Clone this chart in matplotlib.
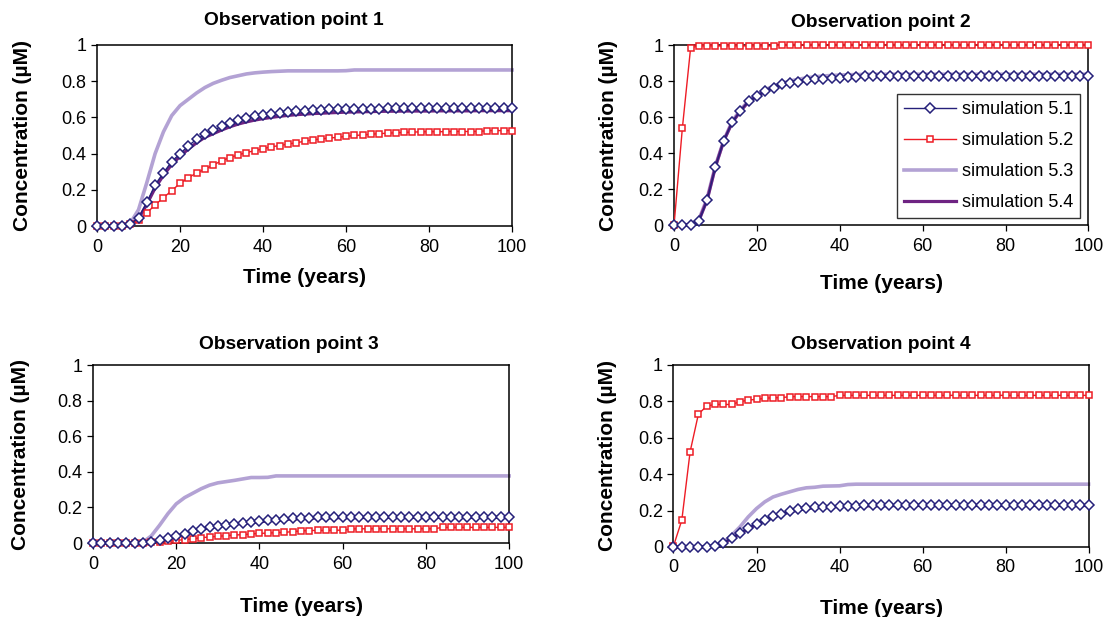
import matplotlib
matplotlib.use("Agg")
import matplotlib.pyplot as plt
from matplotlib.ticker import FuncFormatter
import numpy as np

plt.rcParams['font.family'] = ['Liberation Sans', 'DejaVu Sans']

# time axis, one value every 2 years
years = np.arange(0, 101, 2)

# ---------- observation point 1 ----------
p1_s51 = [0, 0, 0, 0, 0.01, 0.045, 0.13, 0.227, 0.294, 0.356,
          0.40, 0.442, 0.48, 0.506, 0.528, 0.55, 0.568, 0.585, 0.598, 0.607,
          0.614, 0.62, 0.625, 0.63, 0.634, 0.638, 0.641, 0.643, 0.645, 0.646,
          0.647, 0.648, 0.648, 0.649, 0.649, 0.65, 0.651, 0.652, 0.652, 0.652,
          0.652, 0.652, 0.653, 0.653, 0.653, 0.653, 0.653, 0.653, 0.653, 0.653,
          0.653]
p1_s52 = [0, 0, 0, 0, 0.01, 0.032, 0.073, 0.116, 0.157, 0.195,
          0.236, 0.266, 0.294, 0.313, 0.337, 0.36, 0.378, 0.393, 0.406, 0.416,
          0.427, 0.438, 0.444, 0.453, 0.46, 0.468, 0.476, 0.481, 0.486, 0.49,
          0.495, 0.5, 0.503, 0.507, 0.51, 0.513, 0.515, 0.517, 0.519, 0.52,
          0.521, 0.521, 0.521, 0.522, 0.522, 0.522, 0.522, 0.527, 0.527, 0.527,
          0.527]
p1_s53 = [0, 0, 0, 0, 0.015, 0.09, 0.24, 0.40, 0.52, 0.61,
          0.665, 0.70, 0.735, 0.765, 0.788, 0.805, 0.82, 0.83, 0.84, 0.846,
          0.85, 0.853, 0.855, 0.857, 0.857, 0.857, 0.857, 0.857, 0.857, 0.857,
          0.858, 0.862, 0.862, 0.862, 0.862, 0.862, 0.862, 0.862, 0.862, 0.862,
          0.862, 0.862, 0.862, 0.862, 0.862, 0.862, 0.862, 0.862, 0.862, 0.862,
          0.862]
p1_s54 = [0, 0, 0, 0, 0.005, 0.04, 0.12, 0.21, 0.28, 0.34,
          0.385, 0.425, 0.46, 0.49, 0.51, 0.53, 0.548, 0.563, 0.575, 0.585,
          0.593, 0.6, 0.606, 0.611, 0.615, 0.618, 0.621, 0.623, 0.625, 0.627,
          0.629, 0.63, 0.631, 0.632, 0.633, 0.634, 0.634, 0.635, 0.635, 0.635,
          0.635, 0.636, 0.636, 0.636, 0.636, 0.636, 0.637, 0.637, 0.637, 0.637,
          0.637]

# ---------- observation point 2 ----------
p2_s51 = [0, 0, 0, 0.022, 0.139, 0.324, 0.469, 0.57, 0.633, 0.689,
          0.715, 0.746, 0.763, 0.781, 0.791, 0.797, 0.804, 0.81, 0.812, 0.816,
          0.818, 0.82, 0.822, 0.826, 0.828, 0.83, 0.83, 0.83, 0.83, 0.83,
          0.83, 0.83, 0.83, 0.83, 0.83, 0.83, 0.83, 0.83, 0.83, 0.83,
          0.83, 0.83, 0.83, 0.83, 0.83, 0.83, 0.83, 0.83, 0.83, 0.83,
          0.83]
p2_s52 = [0, 0.537, 0.985, 0.995, 0.995, 0.995, 0.995, 0.995, 0.995, 0.995,
          0.995, 0.995, 0.995, 1.0, 1.0, 1.0, 1.0, 1.0, 1.0, 1.0,
          1.0, 1.0, 1.0, 1.0, 1.0, 1.0, 1.0, 1.0, 1.0, 1.0,
          1.0, 1.0, 1.0, 1.0, 1.0, 1.0, 1.0, 1.0, 1.0, 1.0,
          1.0, 1.0, 1.0, 1.0, 1.0, 1.0, 1.0, 1.0, 1.0, 1.0,
          1.0]
p2_s53 = [0, 0, 0.003, 0.03, 0.15, 0.33, 0.47, 0.575, 0.64, 0.69,
          0.725, 0.752, 0.772, 0.788, 0.80, 0.81, 0.818, 0.824, 0.828, 0.831,
          0.833, 0.835, 0.836, 0.837, 0.838, 0.838, 0.838, 0.838, 0.838, 0.838,
          0.838, 0.838, 0.838, 0.838, 0.838, 0.838, 0.838, 0.838, 0.838, 0.838,
          0.838, 0.838, 0.838, 0.838, 0.838, 0.838, 0.838, 0.838, 0.838, 0.838,
          0.838]
p2_s54 = [0, 0, 0.002, 0.025, 0.14, 0.325, 0.468, 0.568, 0.632, 0.686,
          0.715, 0.745, 0.764, 0.78, 0.79, 0.798, 0.805, 0.81, 0.814, 0.817,
          0.82, 0.822, 0.824, 0.826, 0.827, 0.828, 0.829, 0.829, 0.83, 0.83,
          0.83, 0.83, 0.83, 0.83, 0.83, 0.83, 0.83, 0.83, 0.83, 0.83,
          0.83, 0.83, 0.83, 0.83, 0.83, 0.83, 0.83, 0.83, 0.83, 0.83,
          0.83]

# ---------- observation point 3 ----------
p3_s51 = [0, 0, 0, 0, 0, 0, 0, 0.006, 0.015, 0.028,
          0.04, 0.053, 0.066, 0.079, 0.09, 0.096, 0.103, 0.109, 0.114, 0.118,
          0.122, 0.128, 0.131, 0.135, 0.139, 0.142, 0.143, 0.144, 0.145, 0.145,
          0.146, 0.146, 0.147, 0.147, 0.147, 0.147, 0.147, 0.147, 0.147, 0.147,
          0.147, 0.147, 0.147, 0.148, 0.148, 0.148, 0.148, 0.148, 0.148, 0.148,
          0.148]
p3_s52 = [0, 0, 0, 0, 0, 0, 0.002, 0.004, 0.006, 0.009,
          0.015, 0.019, 0.024, 0.03, 0.034, 0.038, 0.041, 0.045, 0.047, 0.051,
          0.054, 0.056, 0.058, 0.06, 0.064, 0.068, 0.07, 0.071, 0.071, 0.072,
          0.072, 0.079, 0.08, 0.08, 0.08, 0.08, 0.08, 0.08, 0.08, 0.08,
          0.08, 0.08, 0.088, 0.088, 0.088, 0.088, 0.088, 0.088, 0.088, 0.088,
          0.088]
p3_s53 = [0, 0, 0, 0, 0, 0, 0.005, 0.04, 0.10, 0.165,
          0.22, 0.255, 0.28, 0.305, 0.325, 0.338, 0.345, 0.352, 0.36, 0.368,
          0.368, 0.369, 0.377, 0.377, 0.377, 0.377, 0.377, 0.377, 0.377, 0.377,
          0.377, 0.377, 0.377, 0.377, 0.377, 0.377, 0.377, 0.377, 0.377, 0.377,
          0.377, 0.377, 0.377, 0.377, 0.377, 0.377, 0.377, 0.377, 0.377, 0.377,
          0.377]
p3_s54 = [0, 0, 0, 0, 0, 0, 0.001, 0.005, 0.013, 0.025,
          0.037, 0.05, 0.063, 0.075, 0.086, 0.093, 0.1, 0.106, 0.111, 0.115,
          0.119, 0.124, 0.128, 0.132, 0.135, 0.138, 0.14, 0.141, 0.142, 0.142,
          0.143, 0.143, 0.143, 0.144, 0.144, 0.144, 0.144, 0.144, 0.144, 0.144,
          0.144, 0.144, 0.144, 0.144, 0.144, 0.144, 0.144, 0.144, 0.144, 0.144,
          0.144]

# ---------- observation point 4 ----------
p4_s51 = [0, 0, 0, 0, 0.002, 0.005, 0.022, 0.05, 0.077, 0.105,
          0.128, 0.15, 0.169, 0.183, 0.198, 0.207, 0.215, 0.22, 0.221, 0.222,
          0.225, 0.226, 0.227, 0.228, 0.228, 0.229, 0.23, 0.23, 0.23, 0.23,
          0.23, 0.23, 0.23, 0.23, 0.23, 0.23, 0.23, 0.23, 0.23, 0.23,
          0.23, 0.23, 0.23, 0.23, 0.23, 0.23, 0.23, 0.23, 0.23, 0.23,
          0.23]
p4_s52 = [0.005, 0.147, 0.523, 0.73, 0.774, 0.783, 0.783, 0.783, 0.798, 0.807,
          0.811, 0.817, 0.82, 0.82, 0.826, 0.826, 0.826, 0.826, 0.826, 0.826,
          0.833, 0.833, 0.833, 0.833, 0.833, 0.833, 0.833, 0.833, 0.833, 0.833,
          0.833, 0.833, 0.833, 0.833, 0.833, 0.833, 0.833, 0.833, 0.833, 0.833,
          0.833, 0.833, 0.833, 0.833, 0.833, 0.833, 0.833, 0.833, 0.833, 0.833,
          0.833]
p4_s53 = [0, 0, 0, 0, 0.002, 0.005, 0.025, 0.064, 0.11, 0.165,
          0.211, 0.248, 0.275, 0.29, 0.303, 0.316, 0.325, 0.328, 0.334, 0.335,
          0.336, 0.343, 0.345, 0.345, 0.345, 0.345, 0.345, 0.345, 0.345, 0.345,
          0.345, 0.345, 0.345, 0.345, 0.345, 0.345, 0.345, 0.345, 0.345, 0.345,
          0.345, 0.345, 0.345, 0.345, 0.345, 0.345, 0.345, 0.345, 0.345, 0.345,
          0.345]
p4_s54 = [0, 0, 0, 0, 0.001, 0.004, 0.02, 0.047, 0.074, 0.1,
          0.124, 0.146, 0.164, 0.179, 0.193, 0.203, 0.211, 0.216, 0.219, 0.221,
          0.223, 0.224, 0.225, 0.226, 0.226, 0.227, 0.227, 0.228, 0.228, 0.228,
          0.228, 0.228, 0.228, 0.228, 0.228, 0.228, 0.228, 0.228, 0.228, 0.228,
          0.228, 0.228, 0.228, 0.228, 0.228, 0.228, 0.228, 0.228, 0.228, 0.228,
          0.228]

titles = ["Observation point 1", "Observation point 2",
          "Observation point 3", "Observation point 4"]
labels = ["simulation 5.1", "simulation 5.2", "simulation 5.3", "simulation 5.4"]
panels = [(p1_s51, p1_s52, p1_s53, p1_s54),
          (p2_s51, p2_s52, p2_s53, p2_s54),
          (p3_s51, p3_s52, p3_s53, p3_s54),
          (p4_s51, p4_s52, p4_s53, p4_s54)]

# axes boxes in figure fraction (left, bottom, width, height)
boxes = [[0.0878, 0.6337, 0.3756, 0.2934],
         [0.6100, 0.6353, 0.3750, 0.2917],
         [0.0842, 0.1199, 0.3765, 0.2885],
         [0.6095, 0.1135, 0.3756, 0.2950]]
# per panel tweaks: title x, title pad, xlabel pad, ylabel pad
title_x = [0.475, 0.5, 0.471, 0.5]
title_pad = [14.5, 13, 11.5, 11.5]
xlab_pad = [9, 14, 17.5, 16.5]
ylab_pad = [21, 15, 20, 15]

col51 = '#25207a'
col52 = '#ee1c25'
col53 = '#b3a2d4'
col54 = '#6e2382'


def draw_panel(ax, data, k):
    s51, s52, s53, s54 = data
    # thick lines go below the marker series
    l53, = ax.plot(years, s53, color=col53, lw=2.6, zorder=2, clip_on=False)
    l54, = ax.plot(years, s54, color=col54, lw=2.3, zorder=3, clip_on=False)
    l52, = ax.plot(years, s52, color=col52, lw=1.0, marker='s', ms=4.4,
                   mfc='white', mec=col52, mew=1.1, zorder=4, clip_on=False)
    l51, = ax.plot(years, s51, color=col51, lw=1.0, marker='D', ms=5.4,
                   mfc='white', mec=col51, mew=1.1, zorder=5, clip_on=False)

    ax.set_xlim(0, 100)
    ax.set_ylim(0, 1)
    ax.set_xticks([0, 20, 40, 60, 80, 100])
    ax.set_yticks([0, 0.2, 0.4, 0.6, 0.8, 1.0])
    ax.yaxis.set_major_formatter(FuncFormatter(lambda v, p: '%g' % v))
    ax.tick_params(direction='out', length=4.5, width=0.9, labelsize=13,
                   colors='black', pad=3)
    ax.tick_params(axis='x', pad=4.5)
    for sp in ax.spines.values():
        sp.set_linewidth(1.1)
        sp.set_color('black')

    ax.set_title(titles[k], fontsize=13.8, fontweight='bold', x=title_x[k],
                 pad=title_pad[k])
    ax.set_xlabel("Time (years)", fontsize=15, fontweight='bold',
                  labelpad=xlab_pad[k])
    ax.set_ylabel("Concentration (\u00b5M)", fontsize=15, fontweight='bold',
                  labelpad=ylab_pad[k])
    return [l51, l52, l53, l54]


fig = plt.figure(figsize=(11.05, 6.17), dpi=100)

for k in range(4):
    ax = fig.add_axes(boxes[k])
    handles = draw_panel(ax, panels[k], k)
    if k == 1:
        leg = ax.legend(handles, labels, loc='lower right',
                        bbox_to_anchor=(0.98, 0.037), borderaxespad=0,
                        fontsize=13, frameon=True, fancybox=False,
                        edgecolor='black', handlelength=2.9,
                        handletextpad=0.3, labelspacing=0.78,
                        borderpad=0.4, markerscale=0.85)
        leg.get_frame().set_linewidth(1.0)
        leg.set_zorder(10)

fig.savefig("out.png", dpi=100)
